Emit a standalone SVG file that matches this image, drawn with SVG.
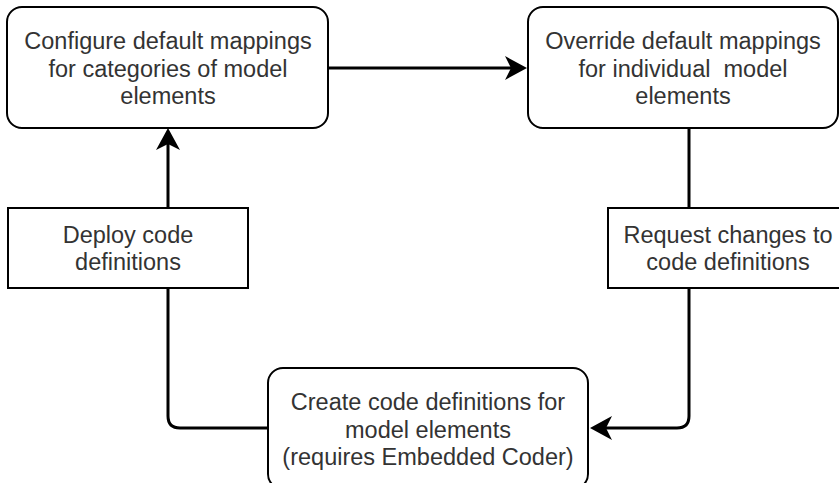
<svg xmlns="http://www.w3.org/2000/svg" width="839" height="483" viewBox="0 0 839 483">
  <style>
    .box { fill: #ffffff; stroke: #000000; stroke-width: 2; }
    .lbl { fill: #ffffff; stroke: #000000; stroke-width: 2; }
    .conn { fill: none; stroke: #000000; stroke-width: 3; }
    text { font-family: "Liberation Sans", Arial, sans-serif; font-size: 23.5px; fill: #333333; text-anchor: middle; }
  </style>
  <defs>
    <marker id="arrow" markerUnits="userSpaceOnUse" viewBox="-7 -13 24 26" markerWidth="24" markerHeight="26" refX="0" refY="0" orient="auto">
      <path d="M16,0 L-6,-12 L0,0 L-6,12 Z" fill="#000000"/>
    </marker>
  </defs>
  <rect width="839" height="483" fill="#ffffff"/>
  <g id="connectors">
    <path class="conn" d="M328,68 H511" marker-end="url(#arrow)"/>
    <path class="conn" d="M689,128 V416 Q689,428 677,428 H606" marker-end="url(#arrow)"/>
    <path class="conn" d="M268,428 H180 Q168,428 168,416 V144" marker-end="url(#arrow)"/>
  </g>
  <g id="configure">
    <rect class="box" x="7" y="7" width="321" height="121" rx="15" ry="15"/>
    <text x="168" y="49">Configure default mappings</text>
    <text x="168" y="77">for categories of model</text>
    <text x="168" y="104">elements</text>
  </g>
  <g id="override">
    <rect class="box" x="528" y="7" width="310" height="121" rx="15" ry="15"/>
    <text x="683" y="49">Override default mappings</text>
    <text x="683" y="77" xml:space="preserve">for individual  model</text>
    <text x="683" y="104">elements</text>
  </g>
  <g id="request">
    <rect class="lbl" x="608" y="208" width="240" height="80"/>
    <text x="728" y="243">Request changes to</text>
    <text x="728" y="270">code definitions</text>
  </g>
  <g id="deploy">
    <rect class="lbl" x="8" y="208" width="240" height="80"/>
    <text x="128" y="243">Deploy code</text>
    <text x="128" y="270">definitions</text>
  </g>
  <g id="create">
    <rect class="box" x="268" y="368" width="320" height="121" rx="15" ry="15"/>
    <text x="428" y="410">Create code definitions for</text>
    <text x="428" y="438">model elements</text>
    <text x="428" y="465">(requires Embedded Coder)</text>
  </g>
</svg>
